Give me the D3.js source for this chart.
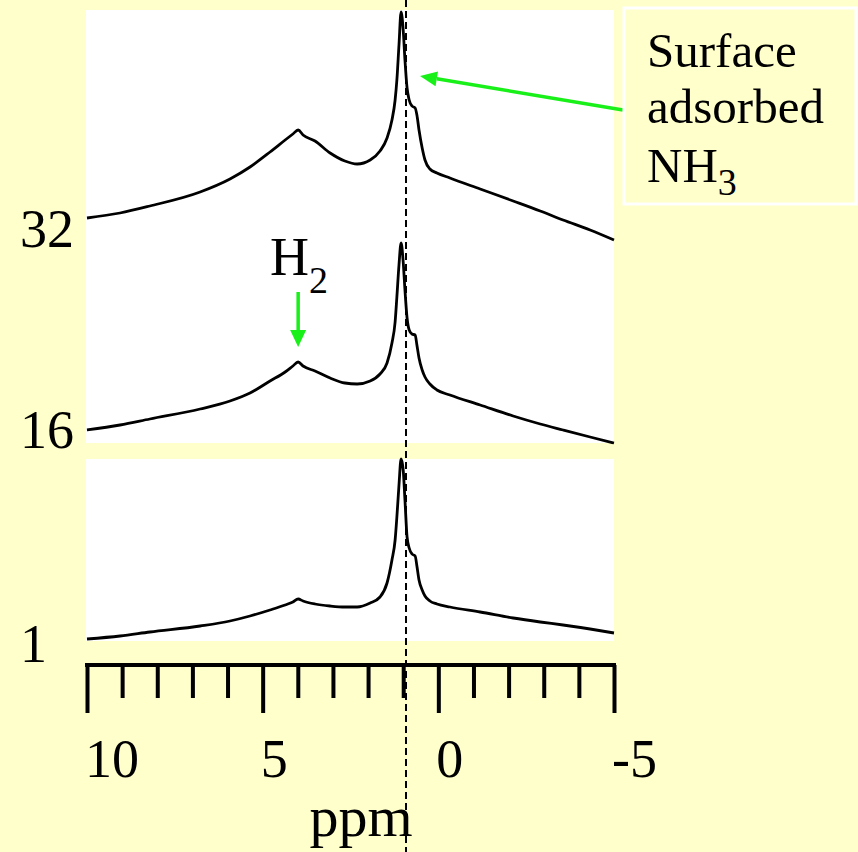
<!DOCTYPE html>
<html><head><meta charset="utf-8">
<script src="https://cdn.jsdelivr.net/npm/d3@7"></script>
<style>html,body{margin:0;padding:0;background:#ffffcc;} svg{display:block;}</style>
</head><body>
<svg id="chart" width="858" height="852"></svg>
<script>
// chemical shift grid (ppm)
const ppm = [10, 9.06, 8.21, 6.78, 5.93, 5.36, 4.79, 4.36, 4.14, 3.99, 3.85, 3.51, 3.08, 2.66, 2.31, 1.94, 1.66, 1.46, 1.32, 1.23, 1.18, 1.12, 1.06, 1.0, 0.95, 0.89, 0.83, 0.75, 0.66, 0.61, 0.55, 0.46, 0.38, 0.24, 0.04, -0.33, -1.19, -2.13, -2.90, -3.55, -4.32, -5.0];
// spectrum intensities (arbitrary units)
const spec1  = [1, 4, 8, 14, 19, 24, 30, 35, 38, 41, 39, 36, 34, 33, 33, 37, 43, 57, 80, 100, 123, 155, 181, 170, 140, 103, 92, 86, 84, 74, 60, 50, 44, 39, 36, 33, 28, 22, 18, 15, 11, 7];
const spec16 = [1, 6, 12, 22, 30, 38, 50, 59, 65, 69, 65, 60, 53, 48, 47, 50, 57, 68, 88, 109, 134, 166, 188, 169, 141, 113, 101, 97, 96, 86, 73, 61, 54, 47, 41, 36, 26, 15, 7, 1, -6, -12];
const spec32 = [1, 6, 13, 27, 40, 52, 67, 79, 85, 89, 84, 78, 66, 58, 55, 59, 68, 81, 99, 119, 139, 174, 207, 189, 159, 131, 119, 113, 111, 104, 89, 71, 59, 50, 46, 41, 30, 18, 8, -1, -11, -21];
const seriesNames = ["1", "16", "32"];
const seriesOffsets = [0, 209, 421];
const majorTicks = [10, 5, 0, -5];
const tickLabels = ["10", "5", "0", "-5"];
const minorTicks = [9, 8, 7, 6, 4, 3, 2, 1, -1, -2, -3, -4];
const refPpm = 0.92;     // dashed reference line
const h2Ppm = 3.99;      // H2 peak
const legendLines = ["Surface", "adsorbed", "NH"];

const svg = d3.select("#chart");
const W = 858, H = 852;
const FONT = "'Liberation Serif','Times New Roman',serif";

svg.append("rect").attr("width", W).attr("height", H).attr("fill", "#ffffcc");

const x = d3.scaleLinear().domain([10, -5]).range([87, 614]);
const y = d3.scaleLinear().domain([0, 640]).range([640, 0]);

// white panels
svg.append("rect").attr("x", 86).attr("y", 10).attr("width", 528).attr("height", 433).attr("fill", "#ffffff");
svg.append("rect").attr("x", 86).attr("y", 459).attr("width", 528).attr("height", 182).attr("fill", "#ffffff");

// spectra
const specs = [spec1, spec16, spec32];
specs.forEach((s, i) => {
  const line = d3.line()
    .x(d => x(d[0]))
    .y(d => y(d[1] + seriesOffsets[i]))
    .curve(d3.curveMonotoneX);
  svg.append("path")
    .datum(ppm.map((p, j) => [p, s[j]]))
    .attr("d", line)
    .attr("fill", "none")
    .attr("stroke", "#000")
    .attr("stroke-width", 2.8)
    .attr("stroke-linejoin", "round");
});

// series labels
const labelDy = [23, 18, 29];
seriesNames.forEach((n, i) => {
  svg.append("text")
    .attr("x", 20)
    .attr("y", y(seriesOffsets[i] + specs[i][0]) + labelDy[i])
    .attr("font-family", FONT).attr("font-size", 54)
    .attr("fill", "#000")
    .text(n);
});

// axis
const axisY = 665;
const axis = d3.axisBottom(x)
  .tickValues(majorTicks.concat(minorTicks))
  .tickSizeOuter(0)
  .tickSize(48)
  .tickFormat("");
const ag = svg.append("g").attr("transform", `translate(0,${axisY})`).call(axis);
ag.select(".domain").attr("stroke", "#000").attr("stroke-width", 4).attr("d", `M${x(10) - 2},0H${x(-5) + 2}`);
ag.selectAll(".tick line")
  .attr("stroke", "#000")
  .attr("stroke-width", 4)
  .attr("y2", d => majorTicks.includes(d) ? 48 : 33);

majorTicks.forEach((t, i) => {
  svg.append("text")
    .attr("x", x(t) - 2)
    .attr("y", 777)
    .attr("font-family", FONT).attr("font-size", 54)
    .attr("fill", "#000")
    .text(tickLabels[i]);
});

svg.append("text")
  .attr("x", 361).attr("y", 836)
  .attr("text-anchor", "middle")
  .attr("font-family", FONT).attr("font-size", 58)
  .attr("fill", "#000")
  .text("ppm");

// dashed reference line
svg.append("line")
  .attr("x1", x(refPpm)).attr("x2", x(refPpm))
  .attr("y1", 0).attr("y2", H)
  .attr("stroke", "#000").attr("stroke-width", 2)
  .attr("stroke-dasharray", "7,4");

// green arrows
const GREEN = "#19f019";
function arrow(x1, y1, x2, y2, len, wid) {
  const a = Math.atan2(y2 - y1, x2 - x1);
  const bx = x2 - len * Math.cos(a), by = y2 - len * Math.sin(a);
  svg.append("line").attr("x1", x1).attr("y1", y1).attr("x2", bx).attr("y2", by)
    .attr("stroke", GREEN).attr("stroke-width", 3.5);
  const px = -Math.sin(a) * wid / 2, py = Math.cos(a) * wid / 2;
  svg.append("path")
    .attr("d", `M${x2},${y2}L${bx + px},${by + py}L${bx - px},${by - py}Z`)
    .attr("fill", GREEN);
}
arrow(x(h2Ppm), 292, x(h2Ppm), 347, 17, 16);
arrow(623, 110, 420, 76, 17, 15);

// H2 label
const h2 = svg.append("text")
  .attr("x", 270).attr("y", 275)
  .attr("font-family", FONT).attr("font-size", 54).attr("fill", "#000");
h2.append("tspan").text("H");
h2.append("tspan").attr("font-size", 38).attr("dy", 18).text("2");

// legend box
svg.append("rect").attr("x", 624).attr("y", 8).attr("width", 232).attr("height", 196)
  .attr("fill", "none").attr("stroke", "#ffffff").attr("stroke-width", 3);
const legY = [67, 123, 182];
legendLines.forEach((t, i) => {
  const tx = svg.append("text").attr("x", 647).attr("y", legY[i])
    .attr("font-family", FONT).attr("font-size", 49).attr("fill", "#000");
  tx.append("tspan").text(t);
  if (i === 2) tx.append("tspan").attr("font-size", 38).attr("dy", 13).text("3");
});
</script>
</body></html>
